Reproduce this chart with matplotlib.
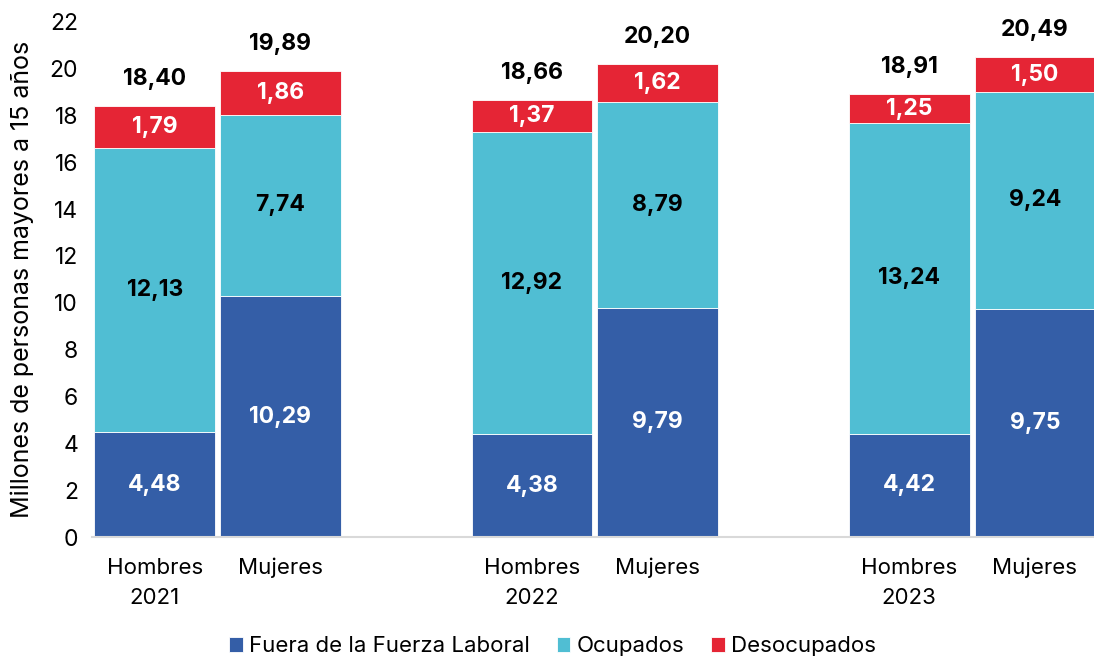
import matplotlib.pyplot as plt
import numpy as np

plt.rcParams['font.family'] = ['Inter', 'DejaVu Sans']

# datos
anios = ['2021', '2022', '2023']
sexos = ['Hombres', 'Mujeres']
fuera = [4.48, 10.29, 4.38, 9.79, 4.42, 9.75]
ocupados = [12.13, 7.74, 12.92, 8.79, 13.24, 9.24]
desocupados = [1.79, 1.86, 1.37, 1.62, 1.25, 1.50]
totales = [18.40, 19.89, 18.66, 20.20, 18.91, 20.49]

c_fuera = '#345EA7'
c_ocup = '#50BED3'
c_deso = '#E52535'

x = np.array([0, 1, 3, 4, 6, 7])
w = 0.96

fig = plt.figure(figsize=(10.94, 6.59), dpi=100)
ax = fig.add_axes([0.084, 0.185, 0.916, 0.782])

fuera = np.array(fuera)
ocupados = np.array(ocupados)
desocupados = np.array(desocupados)

ax.bar(x, fuera, w, color=c_fuera, label='Fuera de la Fuerza Laboral', edgecolor='white', linewidth=0.6)
ax.bar(x, ocupados, w, bottom=fuera, color=c_ocup, label='Ocupados', edgecolor='white', linewidth=0.6)
ax.bar(x, desocupados, w, bottom=fuera + ocupados, color=c_deso, label='Desocupados', edgecolor='white', linewidth=0.6)

def fmt(v):
    return '{:.2f}'.format(v).replace('.', ',')

fs = 16.5
for i, xi in enumerate(x):
    ax.text(xi, fuera[i] / 2, fmt(fuera[i]), ha='center', va='center', color='white', fontsize=fs, fontweight='bold')
    ax.text(xi, fuera[i] + ocupados[i] / 2, fmt(ocupados[i]), ha='center', va='center', color='black', fontsize=fs, fontweight='bold')
    ax.text(xi, fuera[i] + ocupados[i] + desocupados[i] / 2, fmt(desocupados[i]), ha='center', va='center', color='white', fontsize=fs, fontweight='bold')
    ax.text(xi, totales[i] + 1.15, fmt(totales[i]), ha='center', va='center', color='black', fontsize=fs, fontweight='bold', clip_on=False)

labels = []
for a in anios:
    labels += ['Hombres\n' + a, 'Mujeres']
ax.set_xticks(x)
ax.set_xticklabels(labels, fontsize=16, va='top', linespacing=1.6)
ax.tick_params(axis='x', length=0, pad=15)
ax.tick_params(axis='y', length=0, labelsize=16.5, pad=10)

ax.set_ylim(0, 22)
ax.set_yticks(range(0, 23, 2))
ax.set_xlim(-0.5, 7.47)
ax.set_ylabel('Millones de personas mayores a 15 años', fontsize=18, labelpad=11)

for s in ['top', 'right', 'left']:
    ax.spines[s].set_visible(False)
ax.spines['bottom'].set_color('#d9d9d9')
ax.spines['bottom'].set_linewidth(1.5)

ax.legend(loc='center', bbox_to_anchor=(0.46, -0.212), ncol=3, frameon=False, fontsize=16,
          handlelength=0.6, handleheight=0.6, handletextpad=0.3, columnspacing=1.2)

plt.savefig('out.png', dpi=100)
